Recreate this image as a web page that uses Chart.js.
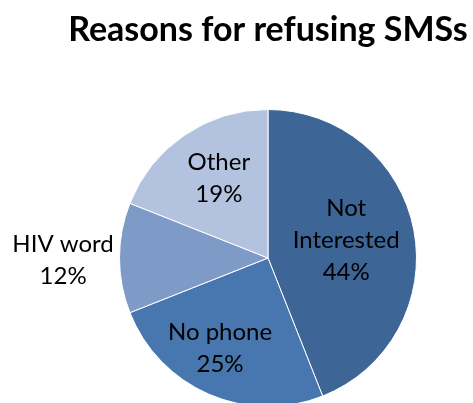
<!DOCTYPE html>
<html>
<head>
<meta charset="utf-8">
<script src="https://cdn.jsdelivr.net/npm/chart.js@4/dist/chart.umd.min.js"></script>
<style>
    html, body { margin: 0; padding: 0; background: #fff; overflow: hidden; }
    #wrap { position: relative; width: 473px; height: 420px; }
</style>
</head>
<body>
<div id="wrap"><canvas id="pieChart"></canvas></div>
<script>
// ----------------------------- Data ----------------------------- //
const categories = [['Not', 'Interested'], ['No phone'], ['HIV word'], ['Other']];
const shares = [44, 25, 12, 19];
const sliceColors = ['#3D6596', '#4876AE', '#7E9BC8', '#B3C2DE'];

// label placement: radius factor and angle shift (deg) from slice middle
const labelPlace = [
    { f: 0.54, da: -2 },
    { f: 0.69, da: 4.5 },
    { f: 1.38, da: -0.7 },
    { f: 0.63, da: 2.5 }
];

// Draws category + percent inside (or beside) each slice
const sliceLabels = {
    id: 'sliceLabels',
    afterDatasetsDraw(chart) {
        const ctx = chart.ctx;
        const meta = chart.getDatasetMeta(0);
        ctx.save();
        ctx.font = '24px Lato';
        ctx.fillStyle = '#000';
        ctx.textAlign = 'center';
        ctx.textBaseline = 'middle';
        meta.data.forEach((arc, i) => {
            const p = arc.getProps(['x', 'y', 'startAngle', 'endAngle', 'outerRadius'], true);
            const mid = (p.startAngle + p.endAngle) / 2 + labelPlace[i].da * Math.PI / 180;
            const r = p.outerRadius * labelPlace[i].f;
            const cx = p.x + Math.cos(mid) * r;
            const cy = p.y + Math.sin(mid) * r;
            const lines = categories[i].concat([shares[i] + '%']);
            const lh = 32;
            lines.forEach((txt, k) => {
                ctx.fillText(txt, cx, cy + (k - (lines.length - 1) / 2) * lh);
            });
        });
        ctx.restore();
    }
};

const ctx = document.getElementById('pieChart').getContext('2d');

const pieChart = new Chart(ctx, {
    type: 'pie',
    data: {
        labels: categories,
        datasets: [{
            data: shares,
            backgroundColor: sliceColors,
            borderColor: '#ffffff',
            borderWidth: 1
        }]
    },
    options: {
        responsive: true,
        maintainAspectRatio: false,
        animation: false,
        layout: {
            padding: { top: 4, left: 63, right: 0, bottom: 13 }
        },
        plugins: {
            legend: { display: false },
            tooltip: { enabled: false },
            title: {
                display: true,
                text: 'Reasons for refusing SMSs',
                color: '#000',
                font: { family: 'Lato', size: 34, weight: 'bold' },
                padding: { top: 5.8, bottom: 58.4 }
            }
        }
    },
    plugins: [sliceLabels]
});
</script>
</body>
</html>
